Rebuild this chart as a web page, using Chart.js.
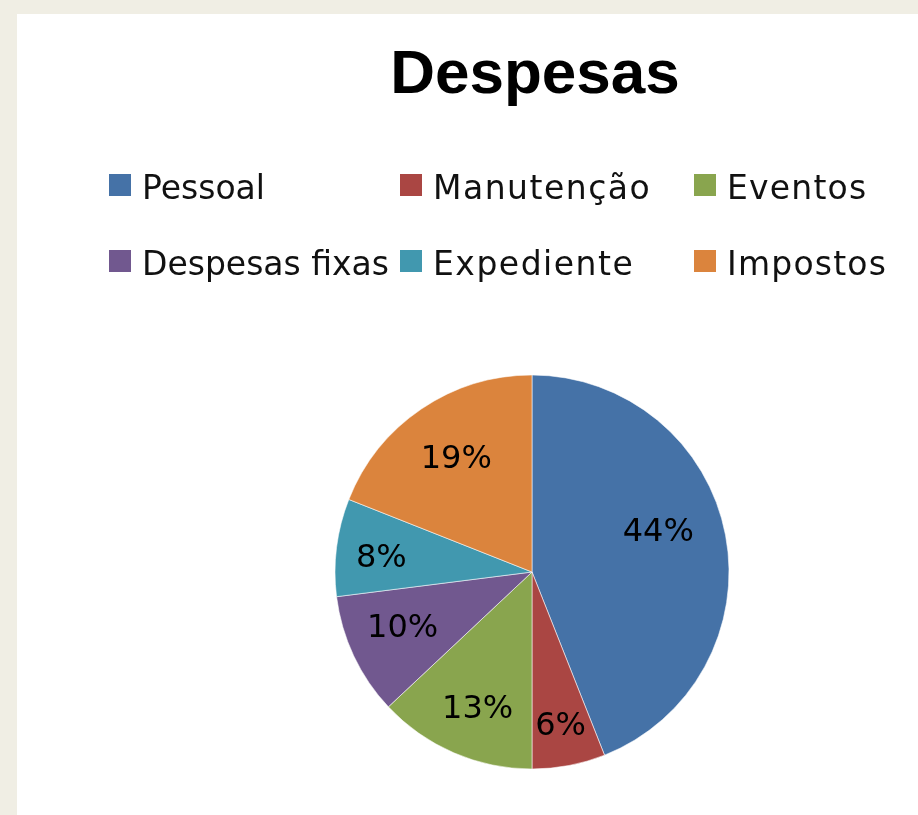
<!DOCTYPE html>
<html>
<head>
<meta charset="utf-8">
<script src="https://cdn.jsdelivr.net/npm/chart.js@4/dist/chart.umd.min.js"></script>
<style>
  html, body { margin: 0; padding: 0; background: #F0EEE4; width: 918px; height: 815px; overflow: hidden; }
  #panel { position: absolute; left: 17px; top: 14px; width: 901px; height: 801px; background: #ffffff; }
  canvas { display: block; }
</style>
</head>
<body>
<div id="panel"><canvas id="c" width="901" height="801"></canvas></div>
<script>
const chartTitle = 'Despesas';
const categories = ['Pessoal', 'Manutenção', 'Eventos', 'Despesas fixas', 'Expediente', 'Impostos'];
const values = [44, 6, 13, 10, 8, 19];
const colors = ['#4572A7', '#AA4643', '#89A54E', '#71588F', '#4198AF', '#DB843D'];

const FONT = '"DejaVu Sans", Verdana, sans-serif';

const customDraw = {
  id: 'customDraw',
  afterDraw(chart) {
    const ctx = chart.ctx;
    ctx.save();
    // Title
    ctx.fillStyle = '#000';
    ctx.font = 'bold 62px "Liberation Sans", Arial, sans-serif';
    ctx.textAlign = 'center';
    ctx.textBaseline = 'alphabetic';
    ctx.fillText(chartTitle, 518, 79);

    // Legend (3 columns x 2 rows)
    const colX = [92, 383, 677];
    const rowY = [160, 236];
    const spacing = ['0px', '1.5px', '1.2px'];
    ctx.font = '33px ' + FONT;
    ctx.textAlign = 'left';
    chart.data.labels.forEach((lab, i) => {
      const col = i % 3, row = Math.floor(i / 3);
      const x = colX[col], y = rowY[row];
      ctx.fillStyle = chart.data.datasets[0].backgroundColor[i];
      ctx.fillRect(x, y, 22, 22);
      ctx.fillStyle = '#111';
      if ('letterSpacing' in ctx) ctx.letterSpacing = spacing[col];
      ctx.fillText(lab, x + 33, y + 25);
    });
    if ('letterSpacing' in ctx) ctx.letterSpacing = '0px';

    // Percent labels inside slices (Excel best-fit nudges)
    const nudge = [[-13, -13], [2, 15], [2, 8], [-1, -4], [-10, 4], [4, 5]];
    const meta = chart.getDatasetMeta(0);
    const data = chart.data.datasets[0].data;
    const total = data.reduce((a, b) => a + b, 0);
    ctx.font = '32px ' + FONT;
    ctx.textAlign = 'center';
    ctx.textBaseline = 'middle';
    ctx.fillStyle = '#000';
    meta.data.forEach((arc, i) => {
      const p = arc.getProps(['x', 'y', 'startAngle', 'endAngle', 'outerRadius'], true);
      const mid = (p.startAngle + p.endAngle) / 2;
      const r = p.outerRadius * 0.72;
      const pct = Math.round(data[i] / total * 100) + '%';
      const n = nudge[i] || [0, 0];
      ctx.fillText(pct, p.x + Math.cos(mid) * r + n[0], p.y + Math.sin(mid) * r + n[1]);
    });
    ctx.restore();
  }
};

new Chart(document.getElementById('c'), {
  type: 'pie',
  data: {
    labels: categories,
    datasets: [{
      data: values,
      backgroundColor: colors,
      borderColor: 'rgba(255,255,255,0.55)',
      borderWidth: 1,
      radius: 197
    }]
  },
  options: {
    responsive: false,
    animation: false,
    devicePixelRatio: 1,
    layout: { padding: { left: 129, right: 0, top: 340, bottom: 25 } },
    plugins: {
      legend: { display: false },
      title: { display: false },
      tooltip: { enabled: false }
    }
  },
  plugins: [customDraw]
});
</script>
</body>
</html>
